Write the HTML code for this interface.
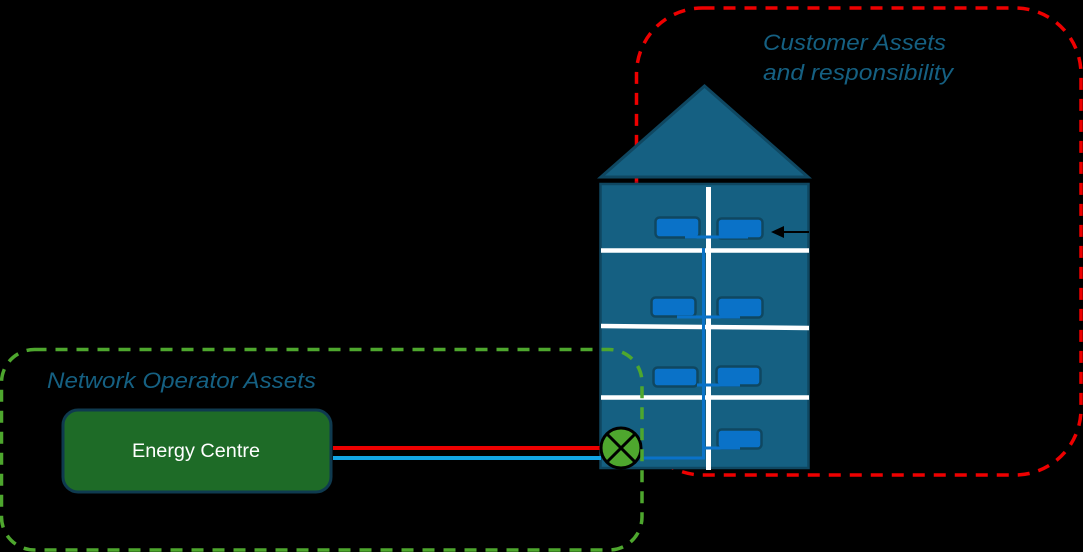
<!DOCTYPE html>
<html>
<head>
<meta charset="utf-8">
<style>
html,body{margin:0;padding:0;background:#000;width:1083px;height:552px;overflow:hidden}
svg{display:block}
text{font-family:"Liberation Sans",sans-serif}
</style>
</head>
<body>
<svg width="1083" height="552" viewBox="0 0 1083 552" xmlns="http://www.w3.org/2000/svg">
<rect width="1083" height="552" fill="#000"/>
<rect x="636.5" y="8" width="444.5" height="467" rx="66" fill="none" stroke="#ee0000" stroke-width="3.500" stroke-dasharray="12 9"/>
<rect x="635" y="181" width="3" height="3" fill="#c00010"/>
<text x="763" y="50" font-size="22" font-style="italic" fill="#156082" textLength="183" lengthAdjust="spacingAndGlyphs">Customer Assets</text>
<text x="763" y="80" font-size="22" font-style="italic" fill="#156082" textLength="190" lengthAdjust="spacingAndGlyphs">and responsibility</text>
<polygon points="601,177 704.5,86 808,177" fill="#156082" stroke="#0f4761" stroke-width="3"/>
<rect x="600.5" y="184" width="208" height="284" fill="#156082" stroke="#0f4761" stroke-width="2.500"/>
<g fill="#0a72c8" stroke="#0f4761" stroke-width="2.500">
<rect x="655.5" y="217.5" width="44" height="20" rx="4"/>
<rect x="717.5" y="218.5" width="45" height="20" rx="4"/>
<rect x="651.5" y="297.5" width="44" height="19" rx="4"/>
<rect x="717.5" y="297.5" width="45" height="20" rx="4"/>
<rect x="653.5" y="367.5" width="44" height="19" rx="4"/>
<rect x="716.5" y="366.5" width="44" height="19" rx="4"/>
<rect x="717.5" y="429.5" width="44" height="19" rx="4"/>
</g>
<g stroke="#fff" fill="none">
<path d="M708.500 187V470" stroke-width="5"/>
<path d="M601 250.500H702M705 250.500H809" stroke-width="4.500"/>
<path d="M601 326L702 327M705 327L809 328" stroke-width="4.500"/>
<path d="M601 397.500H702M705 397.500H809" stroke-width="4.500"/>
</g>
<g fill="none" stroke="#0a72c8" stroke-width="3">
<path d="M703.5 248V458H643"/>
<path d="M685 237H748M677 317H740M697 385H740M705 448H740"/>
</g>
<path d="M809 232H782" stroke="#000" stroke-width="2"/>
<polygon points="771,232 784,226 784,238" fill="#000"/>
<rect x="333" y="446" width="268" height="4" fill="#ee0000"/>
<rect x="333" y="456" width="268" height="4" fill="#12a5e5"/>
<circle cx="621" cy="448" r="20" fill="#4ea72e" stroke="#000" stroke-width="3"/>
<path d="M607 434L635 462M635 434L607 462" stroke="#000" stroke-width="3"/>
<rect x="1.500" y="349.500" width="640.500" height="200.500" rx="33" fill="none" stroke="#4ea72e" stroke-width="3.500" stroke-dasharray="12 9"/>
<rect x="63" y="410" width="268" height="82" rx="15" fill="#1e6b27" stroke="#0f3a4f" stroke-width="3"/>
<text x="132" y="457" font-size="19" fill="#fff" textLength="128" lengthAdjust="spacingAndGlyphs">Energy Centre</text>
<text x="47" y="388" font-size="22" font-style="italic" fill="#156082" textLength="269" lengthAdjust="spacingAndGlyphs">Network Operator Assets</text>
</svg>
</body>
</html>
